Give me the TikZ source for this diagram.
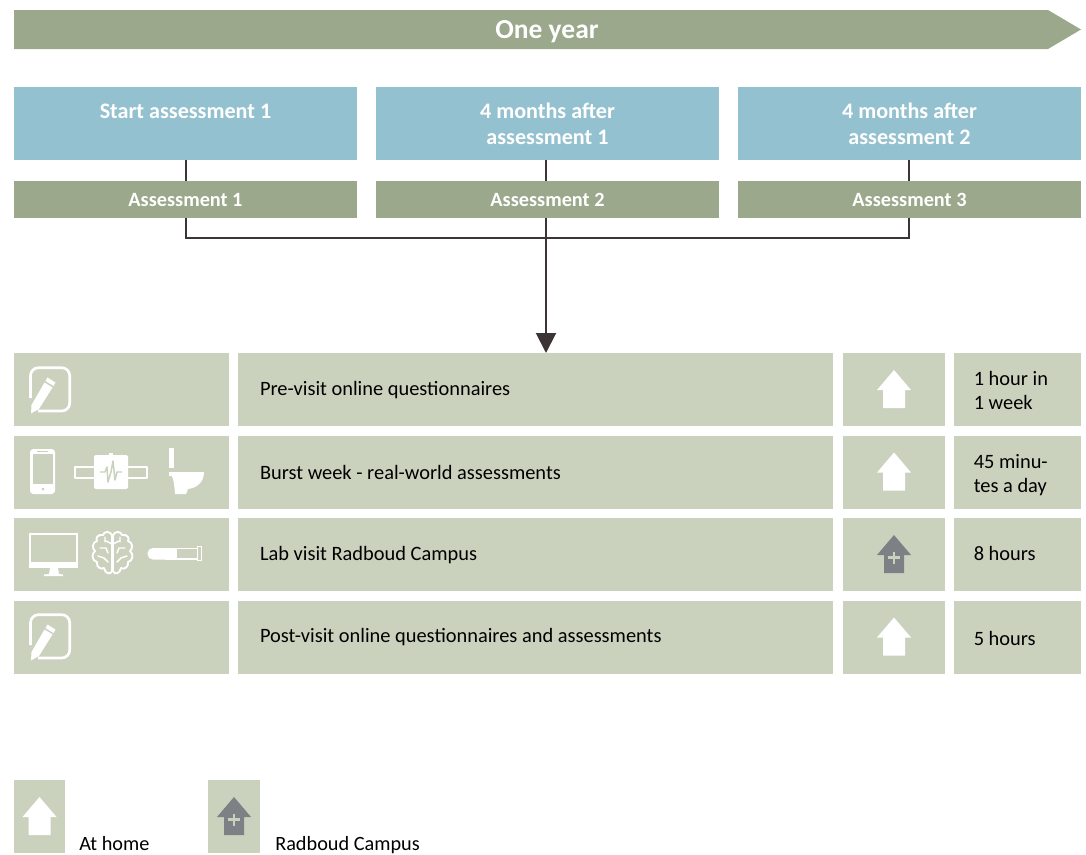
\documentclass[tikz,border=0pt]{standalone}
\usepackage{fontspec}
\setmainfont{Carlito}
\usetikzlibrary{arrows.meta}
\definecolor{banner}{HTML}{9BA88C}
\definecolor{skyb}{HTML}{94C1CF}
\definecolor{pale}{HTML}{CAD2BE}
\definecolor{slate}{HTML}{7D8084}
\definecolor{wire}{HTML}{3B3536}
\tikzset{
  boxbase/.style={fill=#1,draw=none,inner sep=0pt,outer sep=0pt,anchor=north west},
  headbox/.style={boxbase=skyb},
  headtext/.style={text=white,font=\fontsize{16.6pt}{19.5pt}\selectfont\bfseries,align=center,inner sep=0pt,anchor=base},
  greenbox/.style={boxbase=banner,text=white,font=\fontsize{15.2pt}{16pt}\selectfont\bfseries,align=center},
  rowbox/.style={boxbase=pale,text=black,font=\fontsize{15.3pt}{18pt}\selectfont,align=flush left},
  timetext/.style={text=black,font=\fontsize{15.3pt}{18pt}\selectfont,inner sep=0pt,anchor=base west},
  legendlabel/.style={anchor=base west,inner sep=0pt,font=\fontsize{15.2pt}{16pt}\selectfont},
  wireline/.style={draw=wire,line width=1.5pt},
  whiteline/.style={draw=white,line width=1.5pt,line join=round,line cap=round},
  pics/homeicon/.style={code={
    \fill[#1] (-17,20) -- (0,0) -- (17,20) -- (11,20) -- (11,38) -- (-11,38) -- (-11,20) -- cycle;
  }},
  pics/campusicon/.style={code={
    \fill[slate] (-17,20) -- (0,0) -- (17,20) -- (10,20) -- (10,38) -- (-10,38) -- (-10,20) -- cycle;
    \fill[pale] (-1.4,16.5) rectangle (1.4,28.5);
    \fill[pale] (-6,21) rectangle (6,23.8);
  }},
}
\newcommand{\penicon}{%
  \draw[whiteline,line width=2pt,rounded corners=6pt,line cap=butt] (30.5,398) -- (30.5,367.7) -- (69.7,367.7) -- (69.7,411) -- (38,411);
  \fill[white] (31,413.5) -- (31.5,405) -- (44.5,382.5) -- (52.5,387.5) -- (39,409) -- cycle;
  \fill[white] (45.5,381) -- (47.5,377.5) -- (55.5,382.5) -- (53.5,386) -- cycle;
}
\begin{document}
\begin{tikzpicture}[x=0.75pt,y=-0.75pt]
\useasboundingbox (0,0) rectangle (1086,854);
% banner
\fill[banner] (14,10) -- (1048,10) -- (1081,29.5) -- (1048,49) -- (14,49) -- cycle;
\node[text=white,font=\fontsize{20.6pt}{22pt}\selectfont\bfseries,inner sep=0pt,anchor=base] (year) at (547,38) {One year};
% headers
\node[headbox,minimum width=257.25pt,minimum height=54.75pt] (h1) at (14,87) {};
\node[headbox,minimum width=257.25pt,minimum height=54.75pt] (h2) at (376,87) {};
\node[headbox,minimum width=257.25pt,minimum height=54.75pt] (h3) at (738,87) {};
\node[headtext] (h1t) at (185.5,118) {Start assessment 1};
\node[headtext] (h2a) at (547.5,118) {4 months after};
\node[headtext] (h2b) at (547.5,144) {assessment 1};
\node[headtext] (h3a) at (909.5,118) {4 months after};
\node[headtext] (h3b) at (909.5,144) {assessment 2};
\node[greenbox,minimum width=257.25pt,minimum height=27.75pt] (g1) at (14,181) {Assessment 1};
\node[greenbox,minimum width=257.25pt,minimum height=27.75pt] (g2) at (376,181) {Assessment 2};
\node[greenbox,minimum width=257.25pt,minimum height=27.75pt] (g3) at (738,181) {Assessment 3};
% rows
\foreach \n/\y/\t in {1/353/Pre-visit online questionnaires,
                      2/435.5/Burst week - real-world assessments,
                      3/518/Lab visit Radboud Campus,
                      4/600.5/Post-visit online questionnaires and assessments}{
  \node[rowbox,minimum width=161.25pt,minimum height=55pt] (a\n) at (14,\y) {};
  \node[rowbox,minimum width=446.25pt,minimum height=55pt,text width=446.25pt] (b\n) at (238,\y) {\hspace*{16.5pt}\t};
  \node[rowbox,minimum width=76.5pt,minimum height=55pt] (c\n) at (843,\y) {};
  \node[rowbox,minimum width=95.25pt,minimum height=55pt] (e\n) at (954,\y) {};
}
\node[timetext] (t1a) at (973.5,385) {1 hour in};
\node[timetext] (t1b) at (973.5,409) {1 week};
\node[timetext] (t2a) at (973.5,468) {45 minu-};
\node[timetext] (t2b) at (973.5,492) {tes a day};
\node[timetext] (t3) at (973.5,560.5) {8 hours};
\node[timetext] (t4) at (973.5,645) {5 hours};
% connectors
\coordinate (busL) at (186,238);
\coordinate (busR) at (909,238);
\coordinate (busM) at (546,238);
\coordinate (tipT) at (546,353);
\draw[wireline] (h1.south -| busL) -- (g1.north -| busL);
\draw[wireline] (h2.south -| busM) -- (g2.north -| busM);
\draw[wireline] (h3.south -| busR) -- (g3.north -| busR);
\draw[wireline] (g1.south -| busL) -- (busL) -- (busR) -- (g3.south -| busR);
\draw[wireline,-{Triangle[length=15pt,width=15pt]}] (g2.south -| busM) -- (tipT);
% home icons
\path (894,370) pic {homeicon=white};
\path (894,452.5) pic {homeicon=white};
\path (894,535) pic {campusicon};
\path (894,617.5) pic {homeicon=white};
% pen icons
\penicon
\begin{scope}[yshift=-185.25pt]\penicon\end{scope}
% phone
\fill[white,rounded corners=2.5pt] (30,449) rectangle (55,494);
\fill[pale] (33,454) rectangle (53,484);
\fill[pale] (37,451.2) rectangle (48,452.2);
\fill[pale] (43,489) circle (1.5);
% wearable
\draw[whiteline,line width=1.8pt,line cap=butt] (75,467) rectangle (147,478);
\fill[white,rounded corners=1.5pt] (94,455) rectangle (128,489);
\fill[white] (109,453) rectangle (113,456);
\draw[pale,line width=1.1pt,line join=round] (100,472) -- (105,472) -- (107,467) -- (108,482) -- (111,472) -- (113,461) -- (115,480) -- (117,472) -- (122,472);
% toilet
\fill[white] (169,448) rectangle (174,468);
\fill[white] (169,472) -- (204,472) .. controls (204,482) and (197,488) .. (188,489) -- (186,494) -- (175,494) .. controls (174.5,487) and (174,481) .. (172,476) -- (169,476) -- cycle;
% monitor
\fill[white] (29,533) rectangle (78,568);
\fill[pale] (31,535) rectangle (76,562);
\fill[white] (50,568) -- (58,568) -- (59,574) -- (63,574.5) -- (63,576) -- (44,576) -- (44,574.5) -- (49,574) -- cycle;
% brain
\draw[whiteline,line width=1.4pt]
  (112,535) .. controls (110,531) and (104,531) .. (103,535) .. controls (98,534) and (95,538) .. (97,541)
  .. controls (92,542) and (92,549) .. (95,551) .. controls (91,554) and (92,561) .. (97,562)
  .. controls (96,567) and (101,570) .. (104,568) .. controls (105,574) and (111,575) .. (112,571) -- cycle;
\draw[whiteline,line width=1.4pt]
  (113,535) .. controls (115,531) and (121,531) .. (122,535) .. controls (127,534) and (130,538) .. (128,541)
  .. controls (133,542) and (133,549) .. (130,551) .. controls (134,554) and (133,561) .. (128,562)
  .. controls (129,567) and (124,570) .. (121,568) .. controls (120,574) and (114,575) .. (113,571) -- cycle;
\draw[whiteline,line width=1.1pt] (112,544) -- (106,541) (100,548) -- (106,548) -- (108,553) (98,556) -- (104,558) -- (108,562) (105,537) -- (105,542);
\draw[whiteline,line width=1.1pt] (113,544) -- (119,541) (125,548) -- (119,548) -- (117,553) (127,556) -- (121,558) -- (117,562) (120,537) -- (120,542);
% tube
\fill[white,rounded corners=4pt] (147.5,548) rectangle (172,559.5);
\fill[white] (165,548) rectangle (177,559.5);
\draw[whiteline,line width=1pt,line cap=butt] (177,548.5) -- (198,548.5) (177,559) -- (198,559);
\fill[white] (197,546) rectangle (202,561);
\fill[pale] (198.3,547.3) rectangle (200.7,559.7);
% legend
\node[boxbase=pale,minimum width=38.25pt,minimum height=55pt] (lg1) at (14,780) {};
\node[boxbase=pale,minimum width=39pt,minimum height=55pt] (lg2) at (208,780) {};
\path (39.5,797) pic {homeicon=white};
\path (234,797) pic {campusicon};
\node[legendlabel] (lt1) at (79,850) {At home};
\node[legendlabel] (lt2) at (275,850) {Radboud Campus};
\end{tikzpicture}
\end{document}
